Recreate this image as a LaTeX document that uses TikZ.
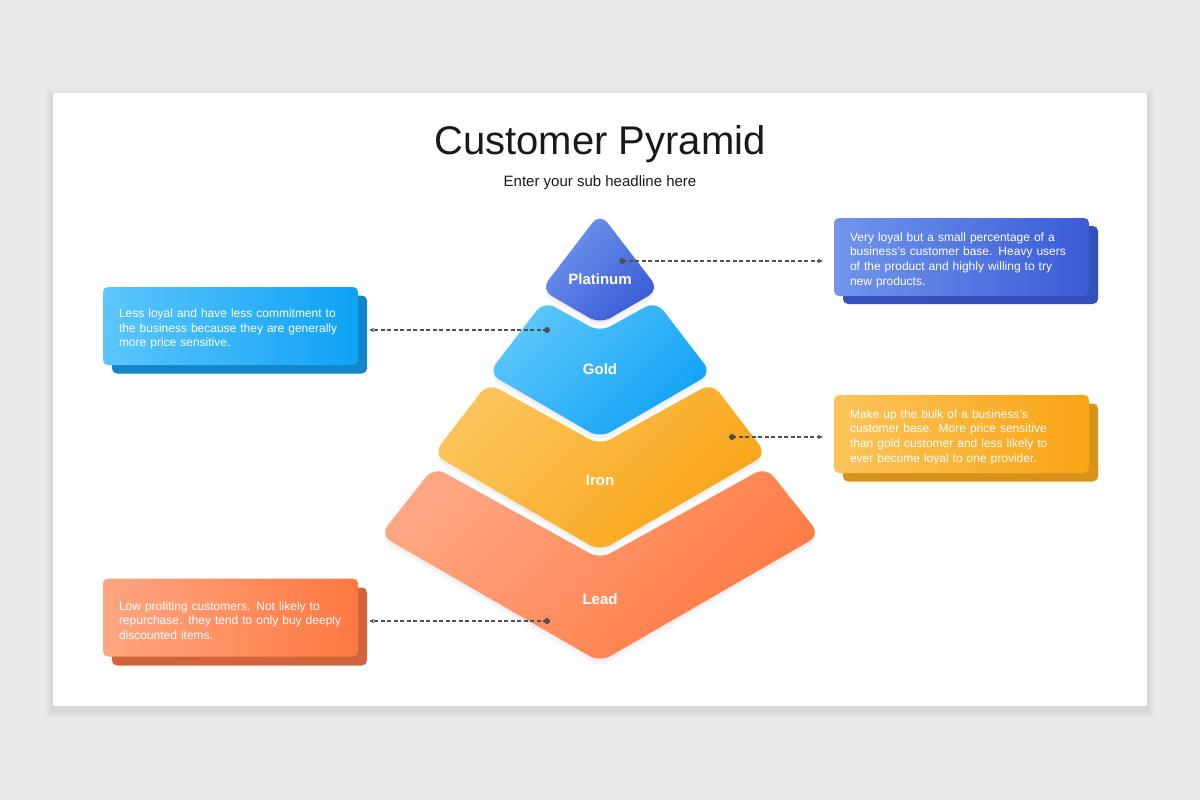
\documentclass[tikz,border=0pt]{standalone}
\usepackage{fontspec}
\setmainfont{Liberation Sans}
\usetikzlibrary{arrows.meta}
\definecolor{pagebg}{HTML}{E9E8EA}
\definecolor{linegray}{HTML}{4F4F4F}
\definecolor{platA}{HTML}{7196EC}
\definecolor{platB}{HTML}{3A5BD6}
\definecolor{goldA}{HTML}{5CC6FB}
\definecolor{goldB}{HTML}{0FA2F5}
\definecolor{ironA}{HTML}{FCC45A}
\definecolor{ironB}{HTML}{F9A415}
\definecolor{leadA}{HTML}{FFA682}
\definecolor{leadB}{HTML}{FF7840}
\definecolor{platBack}{HTML}{3450BC}
\definecolor{goldBack}{HTML}{1286C9}
\definecolor{ironBack}{HTML}{D8921A}
\definecolor{leadBack}{HTML}{D0653D}
\tikzset{
  layer/.style 2 args={top color=#1, bottom color=#2, shading angle=45, draw=none, rounded corners=12pt},
  layershadow/.style={fill=black, opacity=0.025, rounded corners=12pt},
  infobox/.style 2 args={rectangle, rounded corners=5pt, top color=#1, bottom color=#2, shading angle=90,
     minimum width=255pt, minimum height=78pt, text width=223pt, inner xsep=16pt, inner ysep=0pt,
     align=left, text=white, font=\fontsize{12}{14.7}\selectfont},
  backbox/.style={rectangle, rounded corners=5pt, fill=#1, minimum width=255pt, minimum height=78pt, inner sep=0pt},
  lbl/.style={text=white, font=\fontsize{15}{18}\selectfont\bfseries},
  conn/.style={linegray, line width=1.1pt, dash pattern=on 4pt off 2.5pt, -{Stealth[length=5pt,width=4.5pt]}, shorten >=11pt},
  dot/.style={circle, fill=linegray, inner sep=0pt, minimum size=6pt},
}
\newcommand{\lift}{\rule{0pt}{15pt}}
\begin{document}
\begin{tikzpicture}[x=1pt,y=-1pt]
\useasboundingbox (0,0) rectangle (1200,800);
\fill[pagebg] (0,0) rectangle (1200,800);
% card with soft shadow
\foreach \i/\o in {8/0.012,6/0.015,4/0.02,2/0.025}{
  \fill[black,opacity=\o] (53-\i,93-\i+4) rectangle (1147+\i,706+\i+4);
}
\fill[white] (53,93) rectangle (1147,706);
% titles
\node[font=\fontsize{40}{48}\selectfont, text=black!90] (title) at (600,144) {Customer Pyramid};
\node[font=\fontsize{15}{18}\selectfont, text=black!90] (sub) at (600,183) {Enter your sub headline here};
% pyramid layers (soft shadows first)
\foreach \s in {2,4,6}{
\begin{scope}[yshift=-\s pt]
\fill[layershadow] (434,467) -- (600,559) -- (766,467) -- (820,535) -- (600,662) -- (380,535) -- cycle;
\fill[layershadow] (488,383) -- (600,445) -- (712,383) -- (766.7,454.3) -- (600,551) -- (433.3,454.3) -- cycle;
\fill[layershadow] (544,301) -- (600,332) -- (656,301) -- (711.6,373.3) -- (600,438) -- (488.4,373.3) -- cycle;
\fill[layershadow] (600,213) -- (659,289.8) -- (600,324) -- (541,289.8) -- cycle;
\end{scope}
}
\shade[layer={leadA}{leadB}] (434,467) -- (600,559) -- (766,467) -- (820,535) -- (600,662) -- (380,535) -- cycle;
\shade[layer={ironA}{ironB}] (488,383) -- (600,445) -- (712,383) -- (766.7,454.3) -- (600,551) -- (433.3,454.3) -- cycle;
\shade[layer={goldA}{goldB}] (544,301) -- (600,332) -- (656,301) -- (711.6,373.3) -- (600,438) -- (488.4,373.3) -- cycle;
\shade[layer={platA}{platB}] (600,213) -- (659,289.8) -- (600,324) -- (541,289.8) -- cycle;
\node[lbl] (lplat) at (600,279) {Platinum};
\node[lbl] (lgold) at (600,369) {Gold};
\node[lbl] (liron) at (600,480) {Iron};
\node[lbl] (llead) at (600,599) {Lead};
% boxes
\node[backbox=platBack] (b1back) at (970.5,265) {};
\node[infobox={platA}{platB}] (b1) at (961.5,257) {\lift Very loyal but a small percentage of a\\business's customer base. Heavy users\\of the product and highly willing to try\\new products.};
\node[backbox=goldBack] (b2back) at (239.5,334.5) {};
\node[infobox={goldA}{goldB}] (b2) at (230.5,326) {\lift Less loyal and have less commitment to\\the business because they are generally\\more price sensitive.};
\node[backbox=ironBack] (b3back) at (970.5,442.5) {};
\node[infobox={ironA}{ironB}] (b3) at (961.5,434) {\lift Make up the bulk of a business's\\customer base. More price sensitive\\than gold customer and less likely to\\ever become loyal to one provider.};
\node[backbox=leadBack] (b4back) at (239.5,626.5) {};
\node[infobox={leadA}{leadB}] (b4) at (230.5,617.5) {\lift Low profiting customers. Not likely to\\repurchase. they tend to only buy deeply\\discounted items.};
% connectors
\node[dot] (d1) at (622,261) {};
\node[dot] (d2) at (547,330) {};
\node[dot] (d3) at (732,437) {};
\node[dot] (d4) at (547,621) {};
\draw[conn] (d1.center) -- (d1.center -| b1.west);
\draw[conn] (d2.center) -- (d2.center -| b2.east);
\draw[conn] (d3.center) -- (d3.center -| b3.west);
\draw[conn] (d4.center) -- (d4.center -| b4.east);
\end{tikzpicture}
\end{document}
